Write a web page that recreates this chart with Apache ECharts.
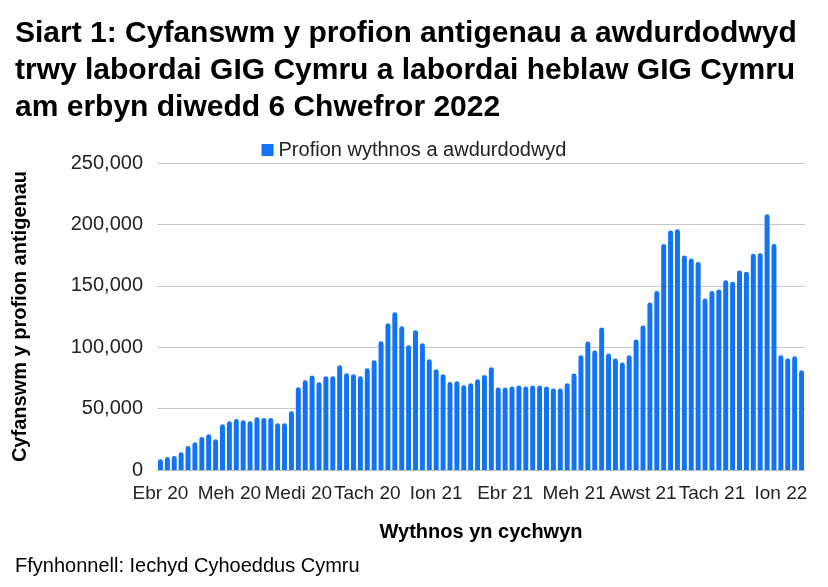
<!DOCTYPE html>
<html>
<head>
    <meta charset="utf-8">
    <script src="https://cdn.jsdelivr.net/npm/echarts@6/dist/echarts.min.js"></script>
    <style>
        body { margin: 0; background: #fff; }
        #main { width: 828px; height: 587px; }
    </style>
</head>
<body>
    <div id="main"></div>
    <script type="text/javascript">
        // profion wythnosol, Ebrill 2020 - Chwefror 2022
        var weeklyTests = [
            8700, 10600, 11400, 14400, 19600, 22600, 26900, 29100, 25000, 37200,
            39700, 41600, 40500, 39700, 42900, 42400, 42400, 38000, 38000, 47800,
            67400, 73100, 76900, 71500, 76400, 76400, 85300, 78800, 78000, 76400,
            82900, 89400, 104900, 119600, 128500, 117100, 101600, 113900, 103300, 90200,
            82100, 78000, 71700, 72300, 69000, 70700, 73900, 77400, 83700, 67100,
            67100, 67900, 68800, 67900, 68800, 68800, 67900, 66300, 66300, 70700,
            78500, 93500, 104600, 97300, 116000, 94800, 90800, 87500, 93500, 106300,
            117700, 136400, 145700, 184000, 195100, 196000, 174700, 172300, 169300, 139700,
            145700, 147000, 154600, 153300, 162500, 161400, 176100, 176600, 208200, 184000,
            93500, 90800, 92700, 81300
        ];
        var tickLabels = ['Ebr 20', 'Meh 20', 'Medi 20', 'Tach 20', 'Ion 21',
            'Ebr 21', 'Meh 21', 'Awst 21', 'Tach 21', 'Ion 22'];
        var weeks = weeklyTests.map(function (v, i) { return 'w' + i; });

        var myChart = echarts.init(document.getElementById('main'));
        myChart.setOption({
            animation: false,
            textStyle: { fontFamily: 'Liberation Sans, Arial, sans-serif' },
            title: [{
                text: 'Siart 1: Cyfanswm y profion antigenau a awdurdodwyd\ntrwy labordai GIG Cymru a labordai heblaw GIG Cymru\nam erbyn diwedd 6 Chwefror 2022',
                left: 10, top: 10,
                textStyle: { fontSize: 30, fontWeight: 'bold', color: '#000', lineHeight: 37 }
            }, {
                text: 'Ffynhonnell: Iechyd Cyhoeddus Cymru',
                left: 10, top: 551,
                textStyle: { fontSize: 20, fontWeight: 'normal', color: '#000' }
            }],
            legend: {
                top: 135, left: 'center',
                itemWidth: 12, itemHeight: 12, itemGap: 4,
                icon: 'rect',
                textStyle: { fontSize: 20, color: '#222' },
                data: ['Profion wythnos a awdurdodwyd']
            },
            grid: { left: 157, right: 23, top: 163, bottom: 117, containLabel: false },
            xAxis: {
                type: 'category',
                data: weeks,
                name: 'Wythnos yn cychwyn',
                nameLocation: 'middle',
                nameGap: 52,
                nameTextStyle: { fontSize: 20, fontWeight: 'bold', color: '#000' },
                axisLine: { lineStyle: { color: '#bbb' } },
                axisTick: { show: false },
                axisLabel: {
                    interval: 0, fontSize: 19, color: '#222', margin: 14,
                    formatter: function (v, i) { return i % 10 === 0 ? tickLabels[i / 10] : ''; }
                }
            },
            yAxis: {
                type: 'value',
                min: 0, max: 250000, interval: 50000,
                name: 'Cyfanswm y profion antigenau',
                nameLocation: 'middle',
                nameGap: 127,
                nameTextStyle: { fontSize: 20, fontWeight: 'bold', color: '#000' },
                axisLabel: {
                    fontSize: 20, color: '#222', margin: 14,
                    formatter: function (v) { return v.toLocaleString('en-GB'); }
                },
                splitLine: { lineStyle: { color: '#c8c8c8' } }
            },
            series: [{
                name: 'Profion wythnos a awdurdodwyd',
                type: 'bar',
                data: weeklyTests,
                barCategoryGap: '28%',
                itemStyle: { color: '#1273f7', borderRadius: [3, 3, 0, 0] }
            }]
        });
    </script>
</body>
</html>
